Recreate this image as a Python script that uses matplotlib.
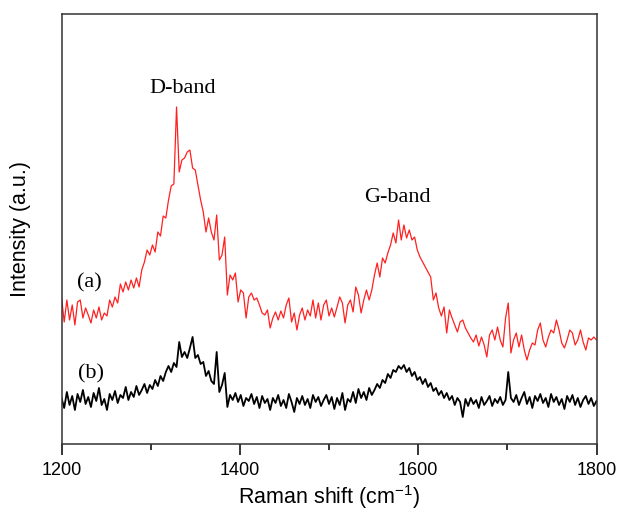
import numpy as np
import matplotlib
matplotlib.use('Agg')
import matplotlib.pyplot as plt
from matplotlib.ticker import MultipleLocator

# Raman shift axis, 3 cm-1 steps from 1200 to 1800
shift = np.arange(1200, 1801, 3)

# (a) red spectrum, intensity in a.u.
intensity_a = [
    147, 122, 144, 124, 139, 119, 142, 144, 126, 136,
    129, 121, 134, 126, 137, 124, 131, 128, 144, 137,
    147, 141, 160, 152, 162, 154, 164, 156, 166, 157,
    174, 182, 194, 189, 199, 192, 212, 208, 228, 226,
    244, 258, 260, 337, 272, 284, 286, 292, 294, 276,
    274, 259, 244, 232, 212, 226, 212, 204, 229, 184,
    189, 207, 149, 169, 164, 171, 142, 154, 151, 126,
    147, 151, 144, 146, 139, 131, 129, 134, 116, 126,
    132, 124, 133, 126, 139, 146, 122, 131, 114, 129,
    136, 124, 134, 128, 144, 126, 141, 124, 139, 144,
    128, 136, 127, 137, 147, 141, 121, 139, 144, 132,
    157, 149, 131, 144, 154, 144, 154, 169, 181, 167,
    186, 181, 191, 199, 211, 201, 224, 204, 219, 206,
    214, 204, 207, 194, 187, 182, 177, 172, 167, 144,
    151, 136, 128, 137, 111, 134, 126, 119, 112, 122,
    124, 116, 111, 106, 102, 109, 98, 107, 99, 87,
    109, 114, 104, 117, 104, 97, 126, 141, 91, 104,
    111, 97, 109, 94, 84, 94, 101, 99, 114, 121,
    104, 97, 107, 114, 111, 124, 114, 101, 96, 104,
    114, 111, 99, 104, 114, 102, 94, 106, 104, 107,
    104,
]

# (b) black spectrum
intensity_b = [
    46, 36, 52, 39, 48, 34, 50, 42, 54, 40,
    47, 37, 51, 43, 56, 39, 45, 34, 50, 44,
    53, 41, 49, 46, 57, 44, 52, 47, 58, 49,
    54, 60, 51, 59, 55, 64, 58, 68, 63, 72,
    78, 72, 81, 77, 102, 87, 92, 86, 96, 107,
    86, 89, 80, 82, 68, 73, 63, 60, 92, 52,
    59, 71, 37, 49, 44, 51, 42, 49, 38, 46,
    43, 50, 40, 47, 36, 48, 41, 45, 34, 46,
    41, 49, 38, 44, 36, 50, 42, 32, 46, 40,
    48, 39, 45, 36, 49, 42, 47, 38, 44, 49,
    40, 47, 35, 46, 39, 51, 34, 45, 42, 52,
    41, 55, 46, 52, 44, 56, 49, 54, 60, 56,
    64, 61, 70, 66, 74, 72, 78, 75, 79, 72,
    76, 68, 72, 64, 67, 60, 65, 57, 61, 53,
    56, 49, 53, 46, 51, 44, 48, 39, 46, 42,
    27, 45, 38, 46, 40, 44, 36, 47, 39, 43,
    48, 38, 45, 41, 47, 39, 44, 72, 46, 42,
    49, 39, 46, 52, 40, 47, 36, 48, 43, 50,
    41, 46, 37, 50, 42, 47, 39, 45, 35, 48,
    42, 49, 39, 46, 37, 44, 48, 40, 46, 38,
    43,
]

serif = ['Liberation Serif', 'DejaVu Serif']
sans = ['Liberation Sans', 'DejaVu Sans']

plt.rcParams['mathtext.fontset'] = 'custom'
plt.rcParams['mathtext.rm'] = 'Liberation Sans'
plt.rcParams['mathtext.default'] = 'rm'

fig = plt.figure(figsize=(6.17, 5.15), dpi=100)
ax = fig.add_axes([0.0997, 0.1379, 0.8671, 0.8349])

ax.plot(shift, intensity_a, color='#ff2020', lw=0.9)
ax.plot(shift, intensity_b, color='black', lw=1.3)

ax.set_xlim(1200, 1800)
ax.set_ylim(0, 430)

ax.xaxis.set_major_locator(MultipleLocator(200))
ax.xaxis.set_minor_locator(MultipleLocator(100))
ax.tick_params(axis='x', which='major', direction='out', length=8, width=1.1,
               labelsize=13, pad=5)
ax.tick_params(axis='x', which='minor', direction='out', length=4, width=1.1)
ax.tick_params(axis='y', left=False, labelleft=False)
for lab in ax.get_xticklabels():
    lab.set_family(sans)

for sp in ax.spines.values():
    sp.set_linewidth(1.1)
    sp.set_color('#333333')

ax.set_xlabel('Raman shift (cm$^{-1}$)', fontsize=15.5, family=sans, labelpad=3)
ax.set_ylabel('Intensity (a.u.)', fontsize=15.5, family=sans, labelpad=22)

ax.text(1336, 356, 'D-band', fontsize=16, family=serif, ha='center', va='center')
ax.text(1577, 246, 'G-band', fontsize=16, family=serif, ha='center', va='center')
ax.text(1231, 161, '(a)', fontsize=16, family=serif, ha='center', va='center')
ax.text(1233, 70, '(b)', fontsize=16, family=serif, ha='center', va='center')

fig.savefig('out.png', dpi=100)
